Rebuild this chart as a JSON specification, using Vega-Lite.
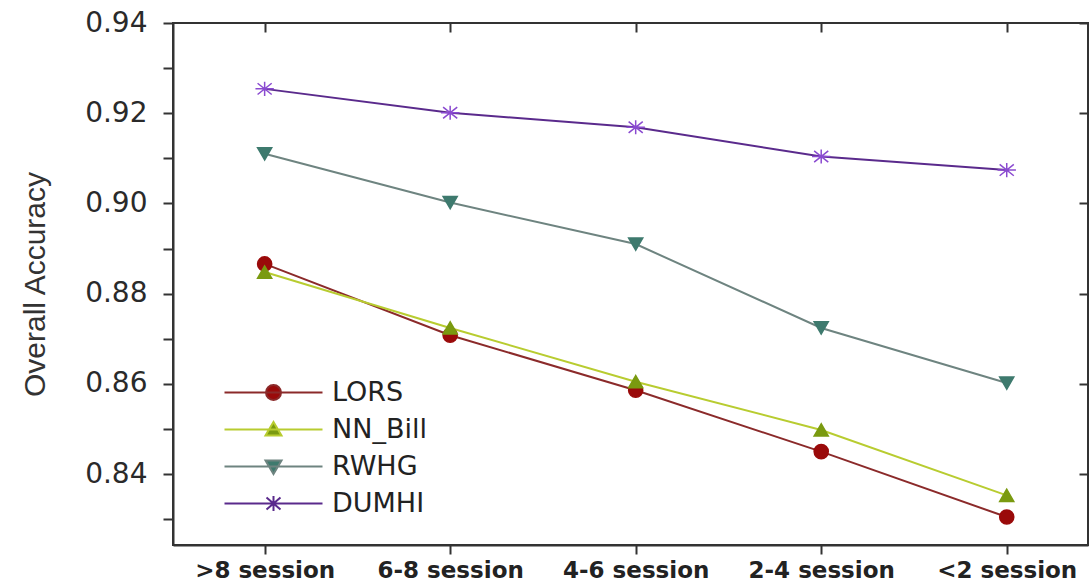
{
  "$schema": "https://vega.github.io/schema/vega-lite/v6.json",
  "width": 915,
  "height": 522,
  "autosize": {"type": "none"},
  "padding": {"left": 173, "top": 23, "right": 3, "bottom": 37},
  "background": "#ffffff",
  "config": {
    "view": {"stroke": "#333333", "strokeWidth": 2},
    "axis": {"grid": false, "domainColor": "#333333", "domainWidth": 2, "tickColor": "#333333", "tickWidth": 2, "labelColor": "#2a2a2a"}
  },
  "data": {
    "values": [
      {"session": ">8 session", "method": "LORS", "acc": 0.8866},
      {"session": "6-8 session", "method": "LORS", "acc": 0.8708},
      {"session": "4-6 session", "method": "LORS", "acc": 0.8586},
      {"session": "2-4 session", "method": "LORS", "acc": 0.8450},
      {"session": "<2 session", "method": "LORS", "acc": 0.8305},
      {"session": ">8 session", "method": "NN_Bill", "acc": 0.8848},
      {"session": "6-8 session", "method": "NN_Bill", "acc": 0.8724},
      {"session": "4-6 session", "method": "NN_Bill", "acc": 0.8605},
      {"session": "2-4 session", "method": "NN_Bill", "acc": 0.8498},
      {"session": "<2 session", "method": "NN_Bill", "acc": 0.8353},
      {"session": ">8 session", "method": "RWHG", "acc": 0.9110},
      {"session": "6-8 session", "method": "RWHG", "acc": 0.9002},
      {"session": "4-6 session", "method": "RWHG", "acc": 0.8910},
      {"session": "2-4 session", "method": "RWHG", "acc": 0.8724},
      {"session": "<2 session", "method": "RWHG", "acc": 0.8602},
      {"session": ">8 session", "method": "DUMHI", "acc": 0.9254},
      {"session": "6-8 session", "method": "DUMHI", "acc": 0.9201},
      {"session": "4-6 session", "method": "DUMHI", "acc": 0.9169},
      {"session": "2-4 session", "method": "DUMHI", "acc": 0.9104},
      {"session": "<2 session", "method": "DUMHI", "acc": 0.9074}
    ]
  },
  "resolve": {
    "axis": {"x": "independent", "y": "independent"},
    "scale": {"fill": "independent", "stroke": "independent", "shape": "independent"}
  },
  "layer": [
    {
      "mark": {"type": "line", "strokeWidth": 2},
      "encoding": {
        "x": {
          "field": "session", "type": "ordinal",
          "sort": [">8 session", "6-8 session", "4-6 session", "2-4 session", "<2 session"],
          "scale": {"type": "point", "padding": 0.466, "align": 0.53},
          "axis": {"orient": "bottom", "title": null, "labelAngle": 0, "labelFont": "DejaVu Sans", "labelFontWeight": "bold", "labelFontSize": 23, "labelColor": "#222222", "tickSize": 9, "labelPadding": 5}
        },
        "y": {
          "field": "acc", "type": "quantitative",
          "scale": {"domain": [0.8243, 0.94], "nice": false, "zero": false},
          "axis": {
            "orient": "left",
            "values": [0.83, 0.84, 0.85, 0.86, 0.87, 0.88, 0.89, 0.9, 0.91, 0.92, 0.93, 0.94],
            "labelExpr": "round(datum.value*100) % 2 == 0 ? format(datum.value, '.2f') : ''",
            "title": "Overall Accuracy",
            "titleFont": "Liberation Sans", "titleFontSize": 30, "titleFontWeight": "normal", "titleColor": "#333333", "titlePadding": 34,
            "labelFont": "DejaVu Sans", "labelFontSize": 28, "tickSize": 10, "labelPadding": 16
          }
        },
        "color": {
          "field": "method", "type": "nominal",
          "scale": {"domain": ["LORS", "NN_Bill", "RWHG", "DUMHI"], "range": ["#8b2a2a", "#b8cc30", "#6e8480", "#5a2a8c"]},
          "legend": null
        },
        "detail": {"field": "method"}
      }
    },
    {
      "mark": {"type": "point", "filled": true, "size": 200, "opacity": 1, "strokeWidth": 1.5},
      "encoding": {
        "x": {
          "field": "session", "type": "ordinal",
          "sort": [">8 session", "6-8 session", "4-6 session", "2-4 session", "<2 session"],
          "axis": {"orient": "top", "title": null, "labels": false, "domain": false, "tickSize": -9}
        },
        "y": {
          "field": "acc", "type": "quantitative",
          "axis": {"orient": "right", "title": null, "labels": false, "domain": false, "tickSize": -9, "values": [0.84, 0.86, 0.88, 0.9, 0.92, 0.94]}
        },
        "fill": {
          "field": "method", "type": "nominal",
          "scale": {"domain": ["LORS", "NN_Bill", "RWHG", "DUMHI"], "range": ["#9a0a0a", "#7a9a10", "#3e7a6e", "#8a4ad0"]},
          "legend": null
        },
        "stroke": {
          "field": "method", "type": "nominal",
          "scale": {"domain": ["LORS", "NN_Bill", "RWHG", "DUMHI"], "range": ["#9a0a0a", "#7a9a10", "#3e7a6e", "#8a4ad0"]},
          "legend": null
        },
        "shape": {
          "field": "method", "type": "nominal",
          "scale": {"domain": ["LORS", "NN_Bill", "RWHG", "DUMHI"], "range": ["circle", "triangle-up", "triangle-down", "M-1.3,0H1.3M0,-1V1M-1,-0.8L1,0.8M-1,0.8L1,-0.8"]},
          "legend": null
        }
      }
    },
    {
      "mark": {"type": "point", "filled": true, "opacity": 0},
      "encoding": {
        "x": {"field": "session", "type": "ordinal", "sort": [">8 session", "6-8 session", "4-6 session", "2-4 session", "<2 session"], "axis": null},
        "y": {"field": "acc", "type": "quantitative", "axis": null},
        "fill": {
          "field": "method", "type": "nominal",
          "scale": {"domain": ["LORS", "NN_Bill", "RWHG", "DUMHI"], "range": ["#9a0a0a", "#7a9a10", "#3e7a6e", "#8a4ad0"]},
          "legend": {"title": null, "orient": "none", "legendX": 87, "legendY": 356, "padding": 0, "symbolSize": 400, "symbolOpacity": 1, "symbolStrokeWidth": 2, "labelOffset": 45, "labelFont": "DejaVu Sans", "labelFontSize": 27, "labelColor": "#222222", "rowPadding": 9}
        },
        "stroke": {
          "field": "method", "type": "nominal",
          "scale": {"domain": ["LORS", "NN_Bill", "RWHG", "DUMHI"], "range": ["#8b2a2a", "#b8cc30", "#6e8480", "#5a2a8c"]},
          "legend": {"title": null, "orient": "none", "legendX": 87, "legendY": 356, "padding": 0, "symbolSize": 400, "symbolOpacity": 1, "symbolStrokeWidth": 2, "labelOffset": 45, "labelFont": "DejaVu Sans", "labelFontSize": 27, "labelColor": "#222222", "rowPadding": 9}
        },
        "shape": {
          "field": "method", "type": "nominal",
          "scale": {"domain": ["LORS", "NN_Bill", "RWHG", "DUMHI"], "range": [
            "M-4.9,0H4.9M0.75,0A0.75,0.75 0 1,1 -0.75,0A0.75,0.75 0 1,1 0.75,0Z",
            "M-4.9,0H4.9M0,-0.75L0.8,0.6L-0.8,0.6Z",
            "M-4.9,0H4.9M0,0.75L0.8,-0.6L-0.8,-0.6Z",
            "M-4.9,0H4.9M-0.9,0H0.9M0,-0.75V0.75M-0.7,-0.6L0.7,0.6M-0.7,0.6L0.7,-0.6"
          ]},
          "legend": {"title": null, "orient": "none", "legendX": 87, "legendY": 356, "padding": 0, "symbolSize": 400, "symbolOpacity": 1, "symbolStrokeWidth": 2, "labelOffset": 45, "labelFont": "DejaVu Sans", "labelFontSize": 27, "labelColor": "#222222", "rowPadding": 9}
        }
      }
    }
  ]
}
